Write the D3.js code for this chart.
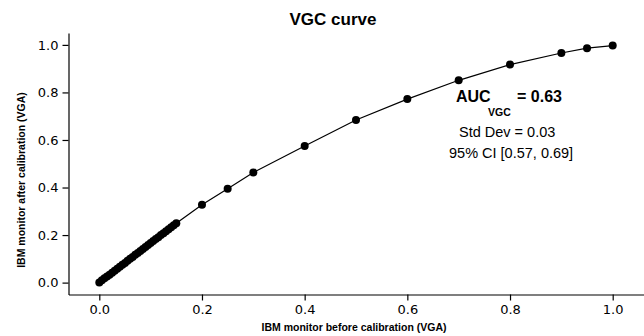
<!DOCTYPE html>
<meta http-equiv="content-type" content="text/html; charset=UTF8">
<html>
<head>
	<title>VGC curve</title>
	<script type="text/javascript" src="https://cdn.jsdelivr.net/npm/d3@7/dist/d3.min.js"></script>
	<style type="text/css">
		body, html {
			padding: 0;
			margin: 0;
			background: white;
		}
		svg text {
			font-family: "Liberation Sans", Arial, sans-serif;
			fill: black;
		}
		.axis text {
			font-family: "DejaVu Sans", sans-serif;
			font-size: 13px;
		}
		.axis path, .axis line {
			stroke: black;
			stroke-width: 1.2px;
		}
	</style>
</head>
<body>
<svg id="Chart" width="644" height="336"></svg>

<script type="text/javascript">

	// calibration points: before (x) and after (y)
	var before = [0.000, 0.005, 0.010, 0.015, 0.020, 0.025, 0.030, 0.035, 0.040, 0.045,
		0.050, 0.055, 0.060, 0.065, 0.070, 0.075, 0.080, 0.085, 0.090, 0.095,
		0.100, 0.105, 0.110, 0.115, 0.120, 0.125, 0.130, 0.135, 0.140, 0.145,
		0.150, 0.20, 0.25, 0.30, 0.40, 0.50, 0.60, 0.70, 0.80, 0.90, 0.95, 1.00];
	var after = [0.000, 0.010, 0.018, 0.026, 0.033, 0.042, 0.050, 0.058, 0.067, 0.075,
		0.083, 0.092, 0.100, 0.108, 0.117, 0.125, 0.133, 0.141, 0.150, 0.158,
		0.167, 0.175, 0.183, 0.191, 0.200, 0.208, 0.216, 0.225, 0.233, 0.241,
		0.250, 0.328, 0.395, 0.463, 0.575, 0.684, 0.772, 0.851, 0.917, 0.966, 0.986, 0.997];

	var xTicks = [0, 0.2, 0.4, 0.6, 0.8, 1.0];
	var yTicks = [0, 0.2, 0.4, 0.6, 0.8, 1.0];

	var svg = d3.select("#Chart");

	var x = d3.scaleLinear().domain([-0.06, 1.06]).range([68.5, 643.5]);
	var y = d3.scaleLinear().domain([-0.05, 1.05]).range([294.5, 33]);

	var points = before.map(function(d, i) {
		return { x: d, y: after[i] };
	});

	// axes, left and bottom only
	svg.append("g")
		.attr("class", "axis")
		.attr("transform", "translate(0," + y.range()[0] + ")")
		.call(d3.axisBottom(x).tickValues(xTicks).tickFormat(d3.format(".1f")).tickSize(6).tickSizeOuter(0).tickPadding(4));

	svg.append("g")
		.attr("class", "axis")
		.attr("transform", "translate(" + x.range()[0] + ",0)")
		.call(d3.axisLeft(y).tickValues(yTicks).tickFormat(d3.format(".1f")).tickSize(6).tickSizeOuter(0).tickPadding(4));

	// curve
	var line = d3.line()
		.x(function(d) { return x(d.x); })
		.y(function(d) { return y(d.y); });

	svg.append("path")
		.datum(points)
		.attr("d", line)
		.attr("fill", "none")
		.attr("stroke", "black")
		.attr("stroke-width", 1.2);

	svg.selectAll("circle.pt")
		.data(points)
	  .enter().append("circle")
		.attr("class", "pt")
		.attr("cx", function(d) { return x(d.x); })
		.attr("cy", function(d) { return y(d.y); })
		.attr("r", 4)
		.attr("fill", "black");

	// title and axis labels
	svg.append("text")
		.attr("x", 333).attr("y", 25)
		.attr("text-anchor", "middle")
		.style("font-size", "17px").style("font-weight", "bold")
		.text("VGC curve");

	svg.append("text")
		.attr("x", 354).attr("y", 331)
		.attr("text-anchor", "middle")
		.style("font-size", "10.5px").style("font-weight", "bold")
		.text("IBM monitor before calibration (VGA)");

	svg.append("text")
		.attr("transform", "translate(25,180) rotate(-90)")
		.attr("text-anchor", "middle")
		.style("font-size", "10.5px").style("font-weight", "bold")
		.text("IBM monitor after calibration (VGA)");

	// AUC annotation
	svg.append("text")
		.attr("x", 456).attr("y", 102)
		.style("font-size", "16px").style("font-weight", "bold")
		.text("AUC");
	svg.append("text")
		.attr("x", 488).attr("y", 116)
		.style("font-size", "10.5px").style("font-weight", "bold")
		.text("VGC");
	svg.append("text")
		.attr("x", 517).attr("y", 102)
		.style("font-size", "16px").style("font-weight", "bold")
		.text("= 0.63");
	svg.append("text")
		.attr("x", 459).attr("y", 137)
		.style("font-size", "14.5px")
		.text("Std Dev = 0.03");
	svg.append("text")
		.attr("x", 449).attr("y", 158)
		.style("font-size", "14.5px")
		.text("95% CI [0.57, 0.69]");
</script>
</body>
</html>
